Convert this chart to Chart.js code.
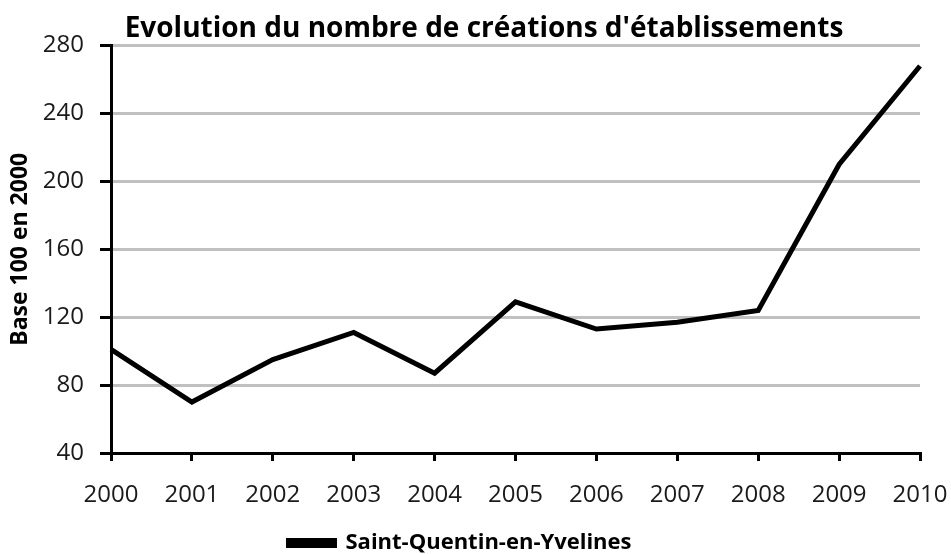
<!DOCTYPE html>
<html>
<head>
<meta charset="utf-8">
<script src="https://cdn.jsdelivr.net/npm/chart.js@4.4.0/dist/chart.umd.min.js"></script>
<style>
  html, body { margin: 0; padding: 0; background: #fff; }
  #wrap { width: 951px; height: 554px; }
</style>
</head>
<body>
<div id="wrap"><canvas id="creations-chart" width="951" height="554"></canvas></div>
<script>
const years = ['2000', '2001', '2002', '2003', '2004', '2005', '2006', '2007', '2008', '2009', '2010'];
const saintQuentinValues = [101, 70, 95, 111, 87, 129, 113, 117, 124, 210, 268];
const yTicks = [40, 80, 120, 160, 200, 240, 280];

const FONT = '"Open Sans", "Liberation Sans", sans-serif';
const GRID_COLOR = '#c0c0c0';
const TEXT_COLOR = '#1a1a1a';

// shift the title so it sits over the plot like in the original
const titleShift = {
  id: 'titleShift',
  afterLayout(chart) {
    if (chart.titleBlock) {
      chart.titleBlock.left = 48;
      chart.titleBlock.right = 920;
    }
  },
};

function createChartData() {
  return {
    labels: years,
    datasets: [
      {
        label: 'Saint-Quentin-en-Yvelines',
        data: saintQuentinValues,
        borderColor: '#000',
        backgroundColor: '#000',
        borderWidth: 5,
        pointRadius: 0,
        tension: 0,
      },
    ],
  };
}

function createChartScales() {
  return {
    x: {
      offset: false,
      grid: {
        drawOnChartArea: false,
        tickColor: '#000',
        tickLength: 8,
        lineWidth: 3,
      },
      border: { color: '#000', width: 3 },
      ticks: {
        color: TEXT_COLOR,
        font: { family: FONT, size: 24 },
        padding: 20,
        maxRotation: 0,
        autoSkip: false,
      },
      afterFit: (scale) => {
        scale.height = 77;
        scale.paddingLeft = 0;
        scale.paddingRight = 0;
      },
    },
    y: {
      min: 40,
      max: 280,
      afterBuildTicks: (scale) => {
        scale.ticks = yTicks.map((v) => ({ value: v }));
      },
      grid: {
        color: GRID_COLOR,
        lineWidth: 3,
        tickColor: '#000',
        tickLength: 11,
      },
      border: { color: '#000', width: 3 },
      ticks: {
        color: TEXT_COLOR,
        font: { family: FONT, size: 24 },
        padding: 16,
      },
      title: {
        display: true,
        text: 'Base 100 en 2000',
        color: '#000',
        font: { family: FONT, size: 23, weight: 'bold' },
        padding: { top: 7, bottom: 0 },
      },
      afterFit: (scale) => {
        scale.width = 111;
      },
    },
  };
}

function createChartOptions() {
  return {
    responsive: false,
    animation: false,
    layout: {
      padding: { left: 0, right: 31, top: 0, bottom: -10 },
    },
    plugins: {
      title: {
        display: true,
        text: "Evolution du nombre de créations d'établissements",
        color: '#000',
        font: { family: FONT, size: 28, weight: 'bold' },
        padding: { top: 12, bottom: 0 },
      },
      legend: {
        position: 'bottom',
        labels: {
          color: '#000',
          font: { family: FONT, size: 22, weight: 'bold' },
          boxWidth: 46,
          boxHeight: 5,
          padding: 2,
        },
      },
      tooltip: { enabled: false },
    },
    scales: createChartScales(),
  };
}

const ctx = document.getElementById('creations-chart').getContext('2d');
new Chart(ctx, {
  type: 'line',
  data: createChartData(),
  options: createChartOptions(),
  plugins: [titleShift],
});
</script>
</body>
</html>
